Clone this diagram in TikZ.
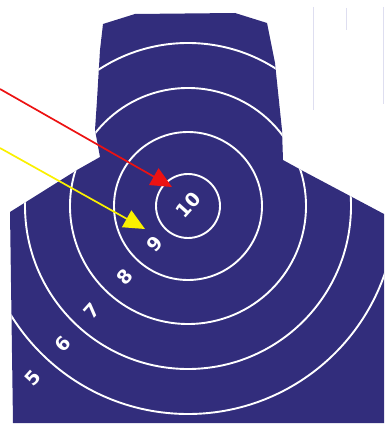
\documentclass[tikz,border=0pt]{standalone}
\usepackage{xcolor}
\usepackage{fontspec}
\newfontfamily\scorefont{DejaVu Sans}
\usetikzlibrary{arrows.meta}
\definecolor{targetBlue}{RGB}{50,45,124}
\definecolor{arrowRed}{RGB}{236,18,18}
\definecolor{arrowYellow}{RGB}{250,240,0}
\definecolor{formGray}{RGB}{222,222,240}

% outline of the silhouette target
\newcommand{\targetoutline}{(103,24) -- (135,14) -- (235,13) -- (267,23) -- (275,63) -- (282,130) -- (283,160) -- (303,171) -- (384,214) -- (384,423) -- (13,423) -- (10,212) -- (77,170) -- (100,157) -- (95,130) -- (97,100) -- (100,50) -- cycle}

\begin{document}
\begin{tikzpicture}[x=1pt, y=-1pt,
	    ring/.style={draw=white, line width=1.9pt},
	    score/.style={text=white, inner sep=0pt, rotate=48, font=\scorefont\bfseries\fontsize{19}{19}\selectfont},
	    pointer/.style={line width=1.7pt, -{Triangle[length=21pt, width=19pt]}},
	    form/.style={draw=formGray, line width=0.6pt}]

	    \useasboundingbox (0,0) rectangle (386,425);

	    \fill [targetBlue] \targetoutline;
	    \coordinate (bull) at (188,206);
	    \begin{scope}
	      \clip \targetoutline;
	      \foreach \r in {32,74,118,163,208}
	        \draw [ring] (bull) circle [radius=\r];
	    \end{scope}

	    \node [score] (s10) at (188,205) {10};
	    \node [score] (s9) at (155,244) {9};
	    \node [score] (s8) at (125,277) {8};
	    \node [score] (s7) at (92,311) {7};
	    \node [score] (s6) at (63,344) {6};
	    \node [score] (s5) at (33,378) {5};

	    % faint form lines, top right
	    \draw [form] (313,7) -- (313,110);
	    \draw [form] (346,8) -- (346,30);
	    \draw [form] (383,7) -- (383,104);

	    \coordinate (redfrom) at (0,89);
	    \coordinate (redtip) at (172,187);
	    \coordinate (yellowfrom) at (0,148);
	    \coordinate (yellowtip) at (145,229);
	    \draw [pointer, arrowRed] (redfrom) -- (redtip);
	    \draw [pointer, arrowYellow] (yellowfrom) -- (yellowtip);
	\end{tikzpicture}
\end{document}
